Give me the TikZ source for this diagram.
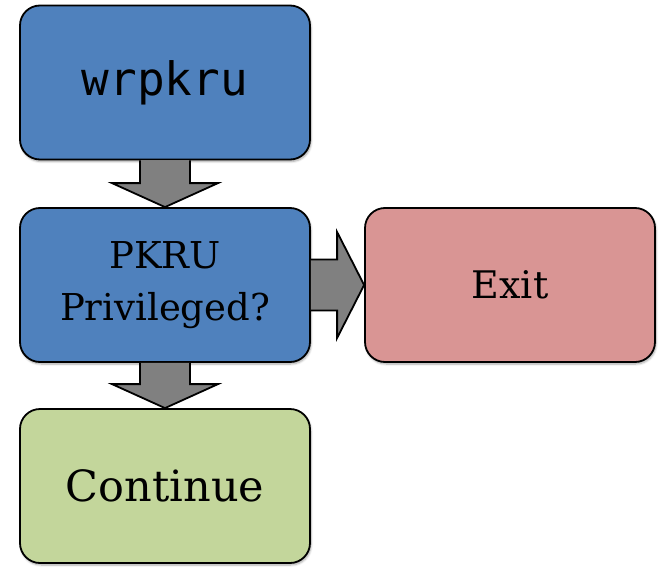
\documentclass[tikz,border=0pt]{standalone}
\usepackage{fontspec}
\setmainfont{DejaVu Serif}
\setmonofont{DejaVu Sans Mono}
\usetikzlibrary{calc,shadows.blur}
\definecolor{boxblue}{HTML}{4F81BD}
\definecolor{boxred}{HTML}{D99594}
\definecolor{boxgreen}{HTML}{C3D69B}
\definecolor{arrgray}{HTML}{808080}
\tikzset{
  box/.style={draw=black, line width=1.8pt, rounded corners=20pt,
    minimum width=290pt, minimum height=154pt, inner sep=0pt, align=center,
    blur shadow={shadow xshift=1pt, shadow yshift=-2pt, shadow blur steps=6, shadow opacity=35}},
  blockarr/.style={draw=black, line width=1.8pt, fill=arrgray, line join=miter}
}
\begin{document}
\begin{tikzpicture}[x=1pt,y=-1pt]
\useasboundingbox (0,0) rectangle (660,567);
\node[box, fill=boxblue, font=\ttfamily\fontsize{46}{50}\selectfont] (wr) at (165,82.5) {wrpkru};
\node[box, fill=boxblue, font=\fontsize{37}{52}\selectfont] (pk) at (165,285) {PKRU\\Privileged?};
\node[box, fill=boxgreen, font=\fontsize{43}{50}\selectfont] (co) at (165,486) {Continue};
\node[box, fill=boxred, font=\fontsize{38}{50}\selectfont] (ex) at (510,285) {Exit};
% down arrow 1
\draw[blockarr] ($(wr.south)+(-25,0)$) -- ($(pk.north)+(-25,-24)$) -- ($(pk.north)+(-53,-24)$)
  -- (pk.north) -- ($(pk.north)+(53,-24)$) -- ($(pk.north)+(25,-24)$) -- ($(wr.south)+(25,0)$);
% down arrow 2
\draw[blockarr] ($(pk.south)+(-25,0)$) -- ($(co.north)+(-25,-24)$) -- ($(co.north)+(-53,-24)$)
  -- (co.north) -- ($(co.north)+(53,-24)$) -- ($(co.north)+(25,-24)$) -- ($(pk.south)+(25,0)$);
% right arrow
\draw[blockarr] ($(pk.east)+(0,-25.5)$) -- ($(ex.west)+(-27,-25.5)$) -- ($(ex.west)+(-27,-53)$)
  -- (ex.west) -- ($(ex.west)+(-27,53)$) -- ($(ex.west)+(-27,25.5)$) -- ($(pk.east)+(0,25.5)$);
\end{tikzpicture}
\end{document}
